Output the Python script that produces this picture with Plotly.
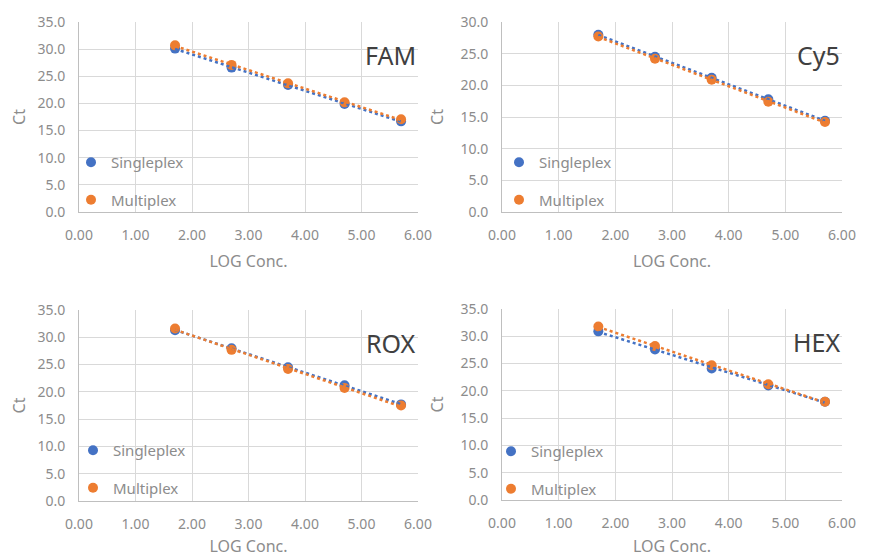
import numpy as np
import plotly.graph_objects as go

# page body has an 8px margin; figure is sized to fill the remaining window
OFF = 8
W, H = 873 - OFF, 557 - OFF

log_conc = [1.70, 2.70, 3.70, 4.70, 5.70]

panel_names = ["FAM", "Cy5", "ROX", "HEX"]
fam_single = [30.1, 26.6, 23.4, 19.9, 16.7]
fam_multi = [30.7, 27.1, 23.7, 20.2, 17.1]
cy5_single = [28.0, 24.5, 21.2, 17.8, 14.4]
cy5_multi = [27.7, 24.2, 20.9, 17.4, 14.2]
rox_single = [31.3, 28.0, 24.5, 21.2, 17.7]
rox_multi = [31.6, 27.7, 24.2, 20.7, 17.5]
hex_single = [30.9, 27.6, 24.1, 21.0, 18.0]
hex_multi = [31.8, 28.2, 24.7, 21.2, 18.0]

series_names = ["Singleplex", "Multiplex"]
x_ticks = [0, 1, 2, 3, 4, 5, 6]
y_max = [35, 30, 35, 35]

singles = [fam_single, cy5_single, rox_single, hex_single]
multis = [fam_multi, cy5_multi, rox_multi, hex_multi]

BLUE = "#4472C4"
ORANGE = "#ED7D31"
TXT = "#8c8c8c"
GRID = "#d9d9d9"
FONT = "Noto Sans"

# panel pixel boxes in window coords: (left, right, top, bottom)
boxes = [(79, 418, 22, 212), (502, 842, 22, 212), (79, 418, 310, 501), (502, 842, 309, 500)]
legend_pos = [(71, 146), (499, 146), (73, 434), (491, 435)]


def px_x(v):
    return (v - OFF) / W


def px_y(v):
    return 1 - (v - OFF) / H


fig = go.Figure()
layout = {}
for i in range(4):
    sfx = "" if i == 0 else str(i + 1)
    xa, ya = "x" + sfx, "y" + sfx
    lg = "legend" + sfx
    l, r, t, b = boxes[i]
    layout["xaxis" + sfx] = dict(
        domain=[px_x(l), px_x(r)], anchor=ya, range=[0, 6], tickvals=x_ticks, tickformat=".2f",
        showgrid=True, gridcolor=GRID, gridwidth=1, showline=True, linecolor="#bfbfbf", linewidth=1,
        zeroline=False, ticks="", ticklabelstandoff=10, automargin=False,
        tickfont=dict(family=FONT, size=14, color=TXT),
        title=dict(text="LOG Conc.", font=dict(family=FONT, size=16, color=TXT), standoff=13),
        fixedrange=True,
    )
    layout["yaxis" + sfx] = dict(
        domain=[px_y(b), px_y(t)], anchor=xa, range=[0, y_max[i]], dtick=5, tickformat=".1f",
        showgrid=True, gridcolor=GRID, gridwidth=1, showline=True, linecolor="#bfbfbf", linewidth=1,
        zeroline=False, ticks="", ticklabelstandoff=10, automargin=False,
        tickfont=dict(family=FONT, size=14, color=TXT),
        title=dict(text="Ct", font=dict(family=FONT, size=16, color=TXT), standoff=12),
        fixedrange=True,
    )
    lx, ly = legend_pos[i]
    layout[lg] = dict(
        x=px_x(lx), y=px_y(ly), xanchor="left", yanchor="top", bgcolor="rgba(0,0,0,0)",
        font=dict(family=FONT, size=15, color=TXT), tracegroupgap=15, traceorder="grouped",
    )
    data_sets = [singles[i], multis[i]]
    colors = [BLUE, ORANGE]
    for k in range(2):
        fig.add_trace(go.Scatter(
            x=log_conc, y=data_sets[k], mode="markers", name=series_names[k],
            marker=dict(color=colors[k], size=10), xaxis=xa, yaxis=ya, legend=lg,
            legendgroup=f"g{i}_{k}", cliponaxis=False,
        ))
    for k in range(2):
        slope, icpt = np.polyfit(log_conc, data_sets[k], 1)
        xs = [min(log_conc), max(log_conc)]
        ys = [slope * v + icpt for v in xs]
        fig.add_trace(go.Scatter(
            x=xs, y=ys, mode="lines", line=dict(color=colors[k], width=2.5, dash="dot"),
            xaxis=xa, yaxis=ya, showlegend=False, hoverinfo="skip",
        ))
    fig.add_annotation(
        text=panel_names[i], xref=xa + " domain", yref=ya + " domain", x=1.0, y=0.826,
        xanchor="right", yanchor="middle", showarrow=False,
        font=dict(family=FONT, size=25, color="#404040"),
    )

fig.update_layout(
    width=W, height=H, margin=dict(l=0, r=0, t=0, b=0),
    paper_bgcolor="white", plot_bgcolor="white", showlegend=True, **layout,
)

fig.write_html("out.html")
